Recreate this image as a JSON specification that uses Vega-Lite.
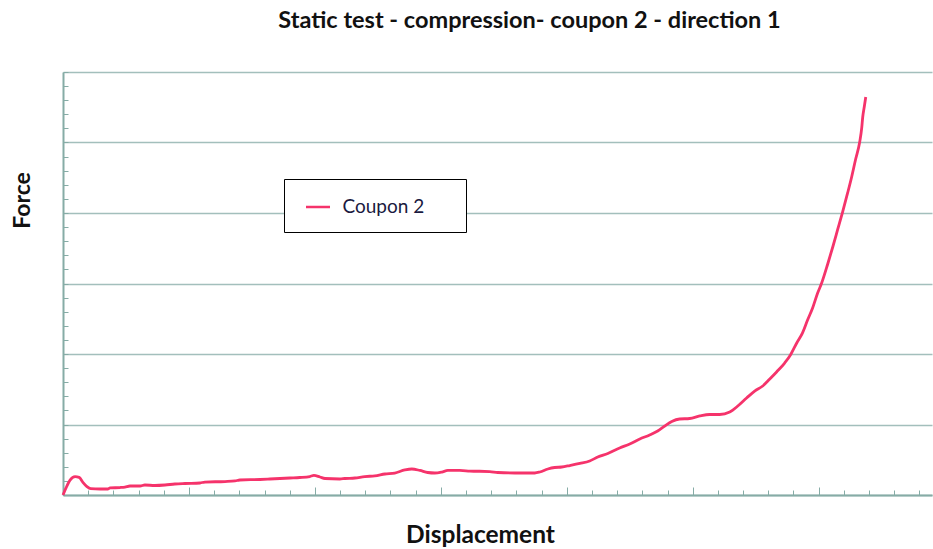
{
  "$schema": "https://vega.github.io/schema/vega-lite/v6.json",
  "width": 869,
  "height": 423,
  "autosize": {"type": "none"},
  "padding": {"left": 63, "top": 72, "right": 1, "bottom": 54},
  "background": "white",
  "title": {
    "text": "Static test - compression- coupon 2 - direction 1",
    "anchor": "middle",
    "dx": 32,
    "offset": 39,
    "font": "Lato",
    "fontSize": 23.5,
    "fontWeight": "bold",
    "color": "#111111"
  },
  "config": {
    "view": {"stroke": null},
    "axis": {"labels": false}
  },
  "data": {
    "values": [
      {"series": "Coupon 2", "d": 0, "f": 0},
      {"series": "Coupon 2", "d": 0.12, "f": 0.10},
      {"series": "Coupon 2", "d": 0.28, "f": 0.21},
      {"series": "Coupon 2", "d": 0.48, "f": 0.26},
      {"series": "Coupon 2", "d": 0.64, "f": 0.25},
      {"series": "Coupon 2", "d": 0.79, "f": 0.18},
      {"series": "Coupon 2", "d": 0.95, "f": 0.12},
      {"series": "Coupon 2", "d": 1.10, "f": 0.09},
      {"series": "Coupon 2", "d": 1.47, "f": 0.085},
      {"series": "Coupon 2", "d": 1.79, "f": 0.085},
      {"series": "Coupon 2", "d": 1.87, "f": 0.10},
      {"series": "Coupon 2", "d": 2.26, "f": 0.106},
      {"series": "Coupon 2", "d": 2.46, "f": 0.113},
      {"series": "Coupon 2", "d": 2.66, "f": 0.128},
      {"series": "Coupon 2", "d": 3.06, "f": 0.128},
      {"series": "Coupon 2", "d": 3.25, "f": 0.142},
      {"series": "Coupon 2", "d": 3.65, "f": 0.135},
      {"series": "Coupon 2", "d": 4.05, "f": 0.142},
      {"series": "Coupon 2", "d": 4.44, "f": 0.156},
      {"series": "Coupon 2", "d": 4.84, "f": 0.163},
      {"series": "Coupon 2", "d": 5.44, "f": 0.170},
      {"series": "Coupon 2", "d": 5.63, "f": 0.184},
      {"series": "Coupon 2", "d": 6.43, "f": 0.191},
      {"series": "Coupon 2", "d": 6.83, "f": 0.199},
      {"series": "Coupon 2", "d": 7.02, "f": 0.213},
      {"series": "Coupon 2", "d": 7.82, "f": 0.220},
      {"series": "Coupon 2", "d": 8.21, "f": 0.227},
      {"series": "Coupon 2", "d": 9.01, "f": 0.241},
      {"series": "Coupon 2", "d": 9.40, "f": 0.248},
      {"series": "Coupon 2", "d": 9.80, "f": 0.262},
      {"series": "Coupon 2", "d": 9.96, "f": 0.277},
      {"series": "Coupon 2", "d": 10.20, "f": 0.255},
      {"series": "Coupon 2", "d": 10.40, "f": 0.234},
      {"series": "Coupon 2", "d": 10.99, "f": 0.227},
      {"series": "Coupon 2", "d": 11.19, "f": 0.234},
      {"series": "Coupon 2", "d": 11.59, "f": 0.241},
      {"series": "Coupon 2", "d": 11.98, "f": 0.262},
      {"series": "Coupon 2", "d": 12.38, "f": 0.270},
      {"series": "Coupon 2", "d": 12.78, "f": 0.298},
      {"series": "Coupon 2", "d": 13.17, "f": 0.312},
      {"series": "Coupon 2", "d": 13.57, "f": 0.355},
      {"series": "Coupon 2", "d": 13.85, "f": 0.369},
      {"series": "Coupon 2", "d": 14.17, "f": 0.348},
      {"series": "Coupon 2", "d": 14.48, "f": 0.319},
      {"series": "Coupon 2", "d": 14.76, "f": 0.312},
      {"series": "Coupon 2", "d": 15.04, "f": 0.326},
      {"series": "Coupon 2", "d": 15.28, "f": 0.348},
      {"series": "Coupon 2", "d": 15.75, "f": 0.348},
      {"series": "Coupon 2", "d": 16.15, "f": 0.340},
      {"series": "Coupon 2", "d": 16.94, "f": 0.333},
      {"series": "Coupon 2", "d": 17.26, "f": 0.319},
      {"series": "Coupon 2", "d": 17.94, "f": 0.312},
      {"series": "Coupon 2", "d": 18.73, "f": 0.312},
      {"series": "Coupon 2", "d": 18.93, "f": 0.326},
      {"series": "Coupon 2", "d": 19.25, "f": 0.369},
      {"series": "Coupon 2", "d": 19.52, "f": 0.390},
      {"series": "Coupon 2", "d": 19.80, "f": 0.397},
      {"series": "Coupon 2", "d": 20.12, "f": 0.418},
      {"series": "Coupon 2", "d": 20.52, "f": 0.447},
      {"series": "Coupon 2", "d": 20.91, "f": 0.482},
      {"series": "Coupon 2", "d": 21.23, "f": 0.539},
      {"series": "Coupon 2", "d": 21.63, "f": 0.589},
      {"series": "Coupon 2", "d": 22.10, "f": 0.667},
      {"series": "Coupon 2", "d": 22.50, "f": 0.723},
      {"series": "Coupon 2", "d": 22.90, "f": 0.794},
      {"series": "Coupon 2", "d": 23.29, "f": 0.851},
      {"series": "Coupon 2", "d": 23.61, "f": 0.908},
      {"series": "Coupon 2", "d": 23.89, "f": 0.979},
      {"series": "Coupon 2", "d": 24.17, "f": 1.043},
      {"series": "Coupon 2", "d": 24.48, "f": 1.078},
      {"series": "Coupon 2", "d": 24.88, "f": 1.085},
      {"series": "Coupon 2", "d": 25.28, "f": 1.121},
      {"series": "Coupon 2", "d": 25.67, "f": 1.142},
      {"series": "Coupon 2", "d": 26.07, "f": 1.142},
      {"series": "Coupon 2", "d": 26.47, "f": 1.177},
      {"series": "Coupon 2", "d": 26.79, "f": 1.262},
      {"series": "Coupon 2", "d": 27.14, "f": 1.376},
      {"series": "Coupon 2", "d": 27.46, "f": 1.475},
      {"series": "Coupon 2", "d": 27.78, "f": 1.546},
      {"series": "Coupon 2", "d": 28.06, "f": 1.645},
      {"series": "Coupon 2", "d": 28.33, "f": 1.745},
      {"series": "Coupon 2", "d": 28.65, "f": 1.872},
      {"series": "Coupon 2", "d": 28.88, "f": 1.986},
      {"series": "Coupon 2", "d": 29.13, "f": 2.156},
      {"series": "Coupon 2", "d": 29.36, "f": 2.300},
      {"series": "Coupon 2", "d": 29.56, "f": 2.482},
      {"series": "Coupon 2", "d": 29.76, "f": 2.652},
      {"series": "Coupon 2", "d": 29.96, "f": 2.865},
      {"series": "Coupon 2", "d": 30.12, "f": 3.007},
      {"series": "Coupon 2", "d": 30.36, "f": 3.277},
      {"series": "Coupon 2", "d": 30.56, "f": 3.518},
      {"series": "Coupon 2", "d": 30.75, "f": 3.759},
      {"series": "Coupon 2", "d": 30.95, "f": 4.014},
      {"series": "Coupon 2", "d": 31.15, "f": 4.284},
      {"series": "Coupon 2", "d": 31.31, "f": 4.511},
      {"series": "Coupon 2", "d": 31.47, "f": 4.766},
      {"series": "Coupon 2", "d": 31.63, "f": 5.007},
      {"series": "Coupon 2", "d": 31.71, "f": 5.206},
      {"series": "Coupon 2", "d": 31.75, "f": 5.362},
      {"series": "Coupon 2", "d": 31.81, "f": 5.504},
      {"series": "Coupon 2", "d": 31.87, "f": 5.645}
    ]
  },
  "resolve": {"axis": {"x": "independent", "y": "independent"}},
  "layer": [
    {
      "mark": {"type": "line", "strokeOpacity": 0},
      "encoding": {
        "x": {
          "field": "d", "type": "quantitative",
          "scale": {"domain": [0, 34.5], "nice": false, "zero": false},
          "axis": {
            "orient": "bottom",
            "values": [0, 5, 10, 15, 20, 25, 30],
            "tickSize": -8, "tickColor": "#86aca6", "tickWidth": 1,
            "domain": false, "grid": false, "labels": false, "title": null
          }
        },
        "y": {
          "field": "f", "type": "quantitative",
          "scale": {"domain": [0, 6], "nice": false, "zero": false},
          "axis": {
            "orient": "left",
            "values": [0, 1, 2, 3, 4, 5, 6],
            "grid": true, "gridColor": "#a3bfbc", "gridWidth": 1.5, "gridOpacity": 1,
            "ticks": false, "domain": false, "labels": false, "title": null
          }
        }
      }
    },
    {
      "mark": {"type": "line", "strokeWidth": 2.8, "interpolate": "monotone"},
      "encoding": {
        "x": {
          "field": "d", "type": "quantitative",
          "scale": {"domain": [0, 34.5], "nice": false, "zero": false},
          "axis": {
            "orient": "bottom",
            "values": [0,1,2,3,4,5,6,7,8,9,10,11,12,13,14,15,16,17,18,19,20,21,22,23,24,25,26,27,28,29,30,31,32,33,34],
            "tickSize": -5, "tickColor": "#86aca6", "tickWidth": 1,
            "domain": true, "domainColor": "#86aca6", "domainWidth": 2,
            "grid": false, "labels": false,
            "title": "Displacement",
            "titleFont": "Lato", "titleFontSize": 24.5, "titleFontWeight": "bold", "titleColor": "#111111",
            "titleX": 417, "titleY": 47, "titleBaseline": "alphabetic", "titleAlign": "center"
          }
        },
        "y": {
          "field": "f", "type": "quantitative",
          "scale": {"domain": [0, 6], "nice": false, "zero": false},
          "axis": {
            "orient": "left",
            "values": [0,0.2,0.4,0.6,0.8,1,1.2,1.4,1.6,1.8,2,2.2,2.4,2.6,2.8,3,3.2,3.4,3.6,3.8,4,4.2,4.4,4.6,4.8,5,5.2,5.4,5.6,5.8,6],
            "tickSize": -5, "tickColor": "#86aca6", "tickWidth": 1,
            "domain": true, "domainColor": "#86aca6", "domainWidth": 2,
            "grid": false, "labels": false,
            "title": "Force",
            "titleFont": "Lato", "titleFontSize": 23, "titleFontWeight": "bold", "titleColor": "#111111",
            "titleAngle": -90, "titleX": -41, "titleY": 128, "titleBaseline": "middle", "titleAlign": "center"
          }
        },
        "color": {
          "field": "series", "type": "nominal",
          "scale": {"range": ["#f5336b"]},
          "legend": {
            "orient": "none", "legendX": 221, "legendY": 107,
            "title": "\u00a0",
            "titleOrient": "right", "titlePadding": 27,
            "titleFontSize": 10,
            "symbolType": "stroke", "symbolSize": 576, "symbolStrokeWidth": 2.5,
            "symbolOffset": 6,
            "labelFont": "Lato", "labelFontSize": 19, "labelColor": "#1a1a40",
            "labelOffset": 11,
            "padding": 14.5,
            "strokeColor": "#000000", "fillColor": "#ffffff", "cornerRadius": 0
          }
        }
      }
    }
  ]
}
